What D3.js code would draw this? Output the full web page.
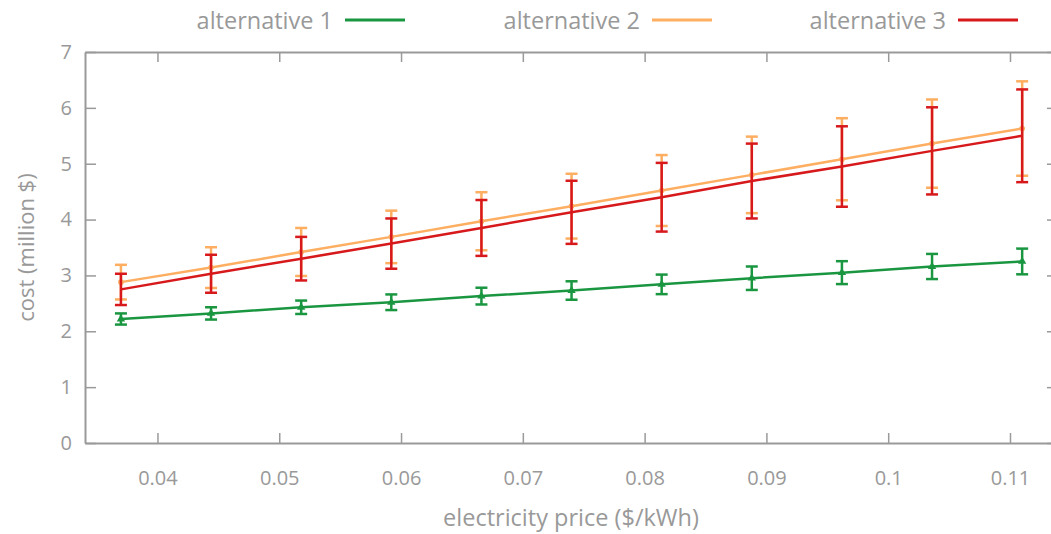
<!DOCTYPE html>
<html>
<head>
<style>
body { margin: 0; background: #fff; }
svg text { font-family: "Open Sans", "Noto Sans", sans-serif; fill: #999; }
.axis path, .axis line { stroke: #9a9a9a; }
</style>
</head>
<body>
<div id="chart"></div>
<script src="https://d3js.org/d3.v7.min.js"></script>
<script>
const width = 1051, height = 534;

// electricity price ($/kWh)
const price = [0.037, 0.0444, 0.0518, 0.0592, 0.0666, 0.074, 0.0814, 0.0888, 0.0962, 0.1036, 0.111];

// cost (million $) and +/- error
const alt1 = [2.22, 2.32, 2.43, 2.52, 2.63, 2.73, 2.84, 2.95, 3.05, 3.16, 3.25];
const alt1Err = [0.10, 0.11, 0.12, 0.14, 0.15, 0.165, 0.175, 0.21, 0.205, 0.225, 0.23];
const alt2 = [2.88, 3.14, 3.42, 3.69, 3.97, 4.24, 4.52, 4.80, 5.08, 5.36, 5.63];
const alt2Err = [0.31, 0.365, 0.43, 0.47, 0.52, 0.58, 0.635, 0.685, 0.735, 0.79, 0.845];
const alt3 = [2.75, 3.03, 3.30, 3.57, 3.85, 4.13, 4.40, 4.69, 4.95, 5.23, 5.50];
const alt3Err = [0.28, 0.34, 0.39, 0.45, 0.50, 0.565, 0.615, 0.67, 0.72, 0.78, 0.83];

const xTicks = [0.04, 0.05, 0.06, 0.07, 0.08, 0.09, 0.1, 0.11];
const yTicks = [0, 1, 2, 3, 4, 5, 6, 7];

const series = [
  {name: 'alternative 1', values: alt1, err: alt1Err, color: '#1a9641', marker: 'triangle'},
  {name: 'alternative 2', values: alt2, err: alt2Err, color: '#fdae61', marker: 'circle'},
  {name: 'alternative 3', values: alt3, err: alt3Err, color: '#d7191c', marker: null}
];

const plotL = 85, plotR = 1057, plotT = 52, plotB = 443;

const x = d3.scaleLinear().domain([0.03405, 0.11386]).range([plotL, plotR]);
const y = d3.scaleLinear().domain([0, 7]).range([plotB, plotT]);

const svg = d3.select('#chart').append('svg')
  .attr('width', width).attr('height', height);

// axes (ticks inward, mirrored on top/right)
const fmt = d => String(d);
svg.append('g').attr('class', 'axis')
  .attr('transform', `translate(0,${plotB})`)
  .call(d3.axisBottom(x).tickValues(xTicks).tickSizeInner(-10).tickSizeOuter(0).tickFormat(fmt))
  .call(g => g.selectAll('text').attr('font-size', 20).attr('dy', '0.35em').attr('y', 35));
svg.append('g').attr('class', 'axis')
  .attr('transform', `translate(0,${plotT})`)
  .call(d3.axisTop(x).tickValues(xTicks).tickSizeInner(-10).tickSizeOuter(0).tickFormat(''));
svg.append('g').attr('class', 'axis')
  .attr('transform', `translate(${plotL},0)`)
  .call(d3.axisLeft(y).tickValues(yTicks).tickSizeInner(-11).tickSizeOuter(0).tickFormat(fmt))
  .call(g => g.selectAll('text').attr('font-size', 20).attr('x', -13));
svg.append('g').attr('class', 'axis')
  .attr('transform', `translate(${plotR},0)`)
  .call(d3.axisRight(y).tickValues(yTicks).tickSizeInner(-10).tickSizeOuter(0).tickFormat(''))
  .call(g => g.select('.domain').remove());

svg.selectAll('.axis .domain').attr('stroke-width', 2);
svg.selectAll('.axis line').attr('stroke-width', 1.5);
svg.selectAll('.axis text').attr('fill', '#999').attr('stroke', 'none');

// axis titles
svg.append('text')
  .attr('x', (plotL + plotR) / 2).attr('y', 517)
  .attr('text-anchor', 'middle').attr('dominant-baseline', 'central')
  .attr('font-size', 23.5)
  .text('electricity price ($/kWh)');
svg.append('text')
  .attr('transform', `translate(25,${(plotT + plotB) / 2}) rotate(-90)`)
  .attr('text-anchor', 'middle').attr('dominant-baseline', 'central')
  .attr('font-size', 22)
  .text('cost (million $)');

// data
const line = d3.line().x((d, i) => x(price[i])).y(d => y(d));
const cap = 6;

series.forEach(s => {
  const g = svg.append('g');
  s.values.forEach((v, i) => {
    const px = x(price[i]);
    const y0 = y(v - s.err[i]), y1 = y(v + s.err[i]);
    g.append('line').attr('x1', px).attr('x2', px).attr('y1', y0).attr('y2', y1)
      .attr('stroke', s.color).attr('stroke-width', 2.5);
    [y0, y1].forEach(yy => g.append('line')
      .attr('x1', px - cap).attr('x2', px + cap).attr('y1', yy).attr('y2', yy)
      .attr('stroke', s.color).attr('stroke-width', 2.5));
  });
  g.append('path').datum(s.values)
    .attr('d', line).attr('fill', 'none')
    .attr('stroke', s.color).attr('stroke-width', 2.5);
  if (s.marker) {
    const sym = s.marker === 'triangle' ? d3.symbolTriangle : d3.symbolCircle;
    g.selectAll('.pt').data(s.values).join('path')
      .attr('transform', (d, i) => `translate(${x(price[i])},${y(d)})`)
      .attr('d', d3.symbol().type(sym).size(s.marker === 'triangle' ? 30 : 25))
      .attr('fill', s.color);
  }
});

// legend
const legendEnds = [333, 640, 946];
series.forEach((s, i) => {
  const lx = legendEnds[i];
  svg.append('text')
    .attr('x', lx).attr('y', 20)
    .attr('text-anchor', 'end').attr('dominant-baseline', 'central')
    .attr('font-size', 23.5)
    .text(s.name);
  svg.append('line')
    .attr('x1', lx + 12).attr('x2', lx + 72).attr('y1', 20).attr('y2', 20)
    .attr('stroke', s.color).attr('stroke-width', 3);
});
</script>
</body>
</html>
